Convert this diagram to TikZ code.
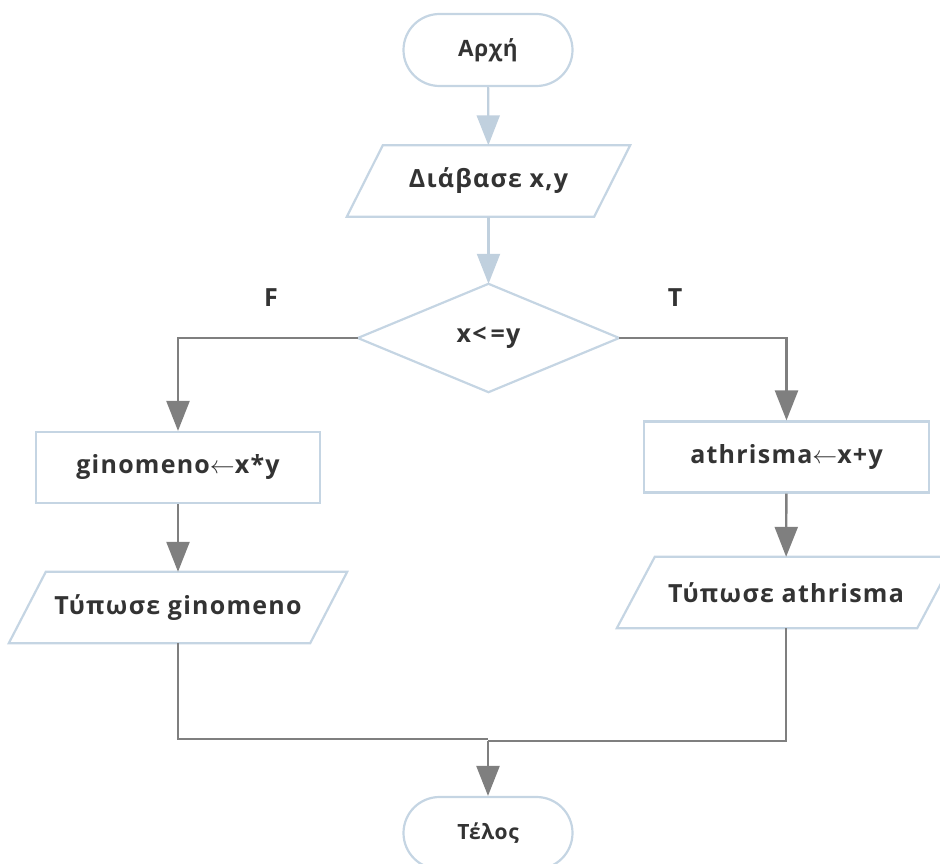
\documentclass[tikz,border=0pt]{standalone}
\usepackage{fontspec}
\setmainfont{Open Sans}[LetterSpace=5]
\newfontfamily\termfont{Open Sans}[LetterSpace=3]
\usetikzlibrary{arrows.meta}
\definecolor{bord}{HTML}{C5D5E3}
\definecolor{lblue}{HTML}{C0D0DE}
\definecolor{gline}{HTML}{7F7F7F}
\definecolor{txt}{HTML}{333333}
\tikzset{
  lbl/.style={font=\fontsize{25}{29}\selectfont\bfseries, text=txt, inner sep=0pt},
  term/.style={lbl, draw=bord, line width=2.2pt, rounded corners=36pt, minimum width=169pt, minimum height=72pt},
  procbox/.style={lbl, draw=bord, line width=2.2pt, minimum height=71pt},
  iobox/.style={lbl, minimum height=71pt},
  para/.style={draw=bord, line width=2.2pt},
  flowa/.style={draw=lblue, line width=2.2pt, -{Triangle[length=30pt,width=23pt]}},
  flowb/.style={draw=gline, line width=2.4pt, -{Triangle[length=30pt,width=23pt]}},
  flowc/.style={draw=gline, line width=2.4pt},
}
\begin{document}
\begin{tikzpicture}[x=1pt,y=-1pt]
\useasboundingbox (0,0) rectangle (940,864);
\node[term, font=\termfont\fontsize{22.5}{26}\selectfont\bfseries] (start) at (488,50) {Αρχή};
\node[iobox, minimum width=283pt] (in) at (488.5,181) {Διάβασε x,y};
\draw[para] ([xshift=36pt]in.north west) -- (in.north east) -- ([xshift=-36pt]in.south east) -- (in.south west) -- cycle;
\node[lbl, minimum width=261pt, minimum height=108pt] (dec) at (488.5,338) {x<\,=y};
\draw[para] (dec.north) -- (dec.east) -- (dec.south) -- (dec.west) -- cycle;
\node[lbl] (F) at (271,298) {F};
\node[lbl] (T) at (675,298) {T};
\node[procbox, minimum width=284pt] (b1) at (178,467.5) {ginomeno$\leftarrow$x*y};
\node[procbox, minimum width=285pt] (b2) at (786.5,457) {athrisma$\leftarrow$x+y};
\node[iobox, minimum width=338pt] (o1) at (178,607.5) {Τύπωσε ginomeno};
\draw[para] ([xshift=37pt]o1.north west) -- (o1.north east) -- ([xshift=-37pt]o1.south east) -- (o1.south west) -- cycle;
\node[iobox, minimum width=338pt] (o2) at (786,592.5) {Τύπωσε athrisma};
\draw[para] ([xshift=38pt]o2.north west) -- (o2.north east) -- ([xshift=-38pt]o2.south east) -- (o2.south west) -- cycle;
\node[term, font=\termfont\fontsize{21}{25}\selectfont\bfseries] (end) at (488,833) {Τέλος};
\coordinate (m) at (488,739);
\draw[flowa] (start) -- (in);
\draw[flowa] (in) -- (dec.north);
\draw[flowb] (dec.west) -| (b1.north);
\draw[flowb] (dec.east) -| (b2.north);
\draw[flowb] (b1) -- (o1);
\draw[flowb] (b2) -- (o2);
\draw[flowc] (o1.south) |- (m);
\draw[flowc] (o2.south) |- ([yshift=-2pt]m);
\draw[flowb] ([yshift=-2pt]m) -- (end.north);
\end{tikzpicture}
\end{document}
